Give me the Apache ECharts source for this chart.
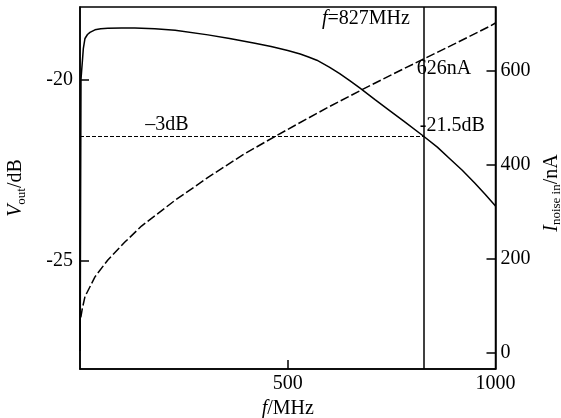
<!DOCTYPE html>
<html>
<head>
<meta charset="utf-8">
<script src="https://cdn.jsdelivr.net/npm/echarts@6/dist/echarts.min.js"></script>
<style>
  html, body { margin: 0; padding: 0; background: #fff; }
  #chart { width: 561px; height: 418px; }
</style>
</head>
<body>
<div id="chart"></div>
<script>
// output level (dB) vs frequency (MHz)
const freqV = [0.5, 1, 1.5, 2.4, 4, 5.6, 8, 12, 18, 24, 36, 50, 67, 100, 132, 180, 229, 308, 360, 421, 460, 500, 530, 550, 570, 600, 625, 650, 674, 710, 746, 780, 827, 860, 890, 920, 950, 975, 1000];
const voutDb = [-27.5, -25.0, -23.0, -20.0, -19.75, -19.52, -19.15, -18.87, -18.76, -18.70, -18.63, -18.60, -18.59, -18.58, -18.58, -18.60, -18.64, -18.77, -18.87, -19.00, -19.09, -19.20, -19.30, -19.38, -19.47, -19.66, -19.84, -20.04, -20.24, -20.56, -20.87, -21.16, -21.57, -21.87, -22.19, -22.51, -22.86, -23.17, -23.50];

// input noise current (nA) vs frequency (MHz)
const freqI = [2, 5, 12, 36, 67, 108, 148, 229, 309, 389, 450, 517, 600, 674, 750, 826, 900, 986, 1000];
const noiseNa = [76, 92, 120, 162, 198, 236, 270, 325, 374, 420, 451, 484, 524, 558, 592, 625, 657, 695, 702];

// ticks
const xTicks = [500, 1000];
const leftTicks = [-25, -20];
const rightTicks = [0, 200, 400, 600];

// -3 dB point
const cutoffFreq = 827;
const cutoffDb = -21.57;

const serif = 'Liberation Serif';
const fs = 20;

const nameRich = {
    i: { fontFamily: serif, fontSize: fs, fontStyle: 'italic', color: '#000', lineHeight: 24, verticalAlign: 'middle' },
    n: { fontFamily: serif, fontSize: fs, color: '#000', lineHeight: 24, verticalAlign: 'middle' },
    s: { fontFamily: serif, fontSize: 13, color: '#000', lineHeight: 12, verticalAlign: 'bottom' }
};

const chart = echarts.init(document.getElementById('chart'), null, { renderer: 'canvas' });

const axisLine = { show: true, onZero: false, lineStyle: { color: '#000', width: 1.5 } };
const axisTick = (vals) => ({ show: true, inside: true, length: 9, customValues: vals, lineStyle: { color: '#000', width: 1.5 } });
const axisLabel = (vals, margin) => ({
    show: true, customValues: vals, margin: margin, color: '#000',
    fontFamily: serif, fontSize: fs, formatter: (v) => String(v)
});

const option = {
    backgroundColor: '#fff',
    animation: false,
    grid: {
        left: 80, right: 65.5, top: 7, bottom: 49,
        outerBoundsMode: 'none', containLabel: false,
        show: true, borderColor: '#000', borderWidth: 1.5
    },
    xAxis: {
        type: 'value', min: 0, max: 1000,
        axisLine: axisLine,
        axisTick: axisTick([500]),
        axisLabel: axisLabel(xTicks, 5),
        splitLine: { show: false },
        name: '{i|f}{n|/MHz}',
        nameLocation: 'middle', nameGap: 26,
        nameTextStyle: { rich: nameRich }
    },
    yAxis: [{
        type: 'value', min: -28, max: -18, position: 'left',
        axisLine: axisLine,
        axisTick: axisTick(leftTicks),
        axisLabel: axisLabel(leftTicks, 7),
        splitLine: { show: false },
        name: '{i|V}{s|out}{n|/dB}',
        nameLocation: 'middle', nameRotate: 90, nameGap: 52,
        nameTextStyle: { rich: nameRich }
    }, {
        type: 'value', min: -34, max: 736, position: 'right',
        axisLine: axisLine,
        axisTick: axisTick(rightTicks),
        axisLabel: axisLabel(rightTicks, 5),
        splitLine: { show: false },
        name: '{i|I}{s|noise in}{n|/nA}',
        nameLocation: 'middle', nameRotate: 90, nameGap: 42,
        nameTextStyle: { rich: nameRich, padding: [0, 10, 0, 0] }
    }],
    series: [{
        name: 'Vout', type: 'line', yAxisIndex: 0,
        data: freqV.map((f, i) => [f, voutDb[i]]),
        showSymbol: false, smooth: false,
        lineStyle: { color: '#000', width: 1.5 },
        markLine: {
            silent: true, symbol: 'none', label: { show: false },
            data: [
                [{ coord: [0, cutoffDb], lineStyle: { type: [4, 2], width: 1, color: '#000' } },
                 { coord: [cutoffFreq, cutoffDb] }],
                { xAxis: cutoffFreq, lineStyle: { type: 'solid', width: 1.5, color: '#000' } }
            ]
        },
        markPoint: {
            symbol: 'circle', symbolSize: 0, silent: true,
            label: { show: true, position: 'inside', color: '#000', fontFamily: serif, fontSize: fs },
            data: [
                { coord: [209, -21.24], label: { formatter: '\u20133dB' } },
                { coord: [896, -21.27], label: { formatter: '-21.5dB' } },
                { coord: [688, -18.32], label: { formatter: '{i|f}{n|=827MHz}', rich: nameRich } }
            ]
        }
    }, {
        name: 'Inoise', type: 'line', yAxisIndex: 1,
        data: freqI.map((f, i) => [f, noiseNa[i]]),
        showSymbol: false, smooth: false,
        lineStyle: { color: '#000', width: 1.5, type: [9, 3] },
        markPoint: {
            symbol: 'circle', symbolSize: 0, silent: true,
            label: { show: true, position: 'inside', color: '#000', fontFamily: serif, fontSize: fs },
            data: [
                { coord: [876, 604], label: { formatter: '626nA' } }
            ]
        }
    }]
};

chart.setOption(option);
</script>
</body>
</html>
